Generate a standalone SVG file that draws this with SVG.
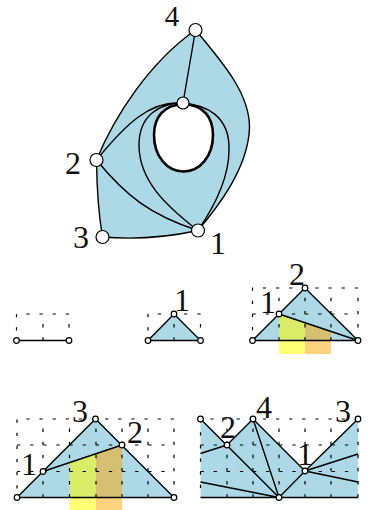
<svg xmlns="http://www.w3.org/2000/svg" width="369" height="510" viewBox="0 0 369 510">
<style>
.f{fill:#add8e6;stroke:none}
.e{fill:none;stroke:#000;stroke-width:1.4}
.d{fill:none;stroke:#000;stroke-width:1.2;stroke-dasharray:3.3 9.825}
.n{fill:#fff;stroke:#000;stroke-width:1.2}
.y{fill:#ffff00;fill-opacity:.55;stroke:none}
.o{fill:#ffa500;fill-opacity:.5;stroke:none}
text{font-family:"Liberation Serif",serif;font-size:32px;fill:#111;text-anchor:middle}
text.s{font-size:29px}
</style>
<g id="panel-top-fill">
<path class="f" d="M195.500 30C150 62 115 115 96.500 160Q97 205 102.500 237Q150 241 198 230.500C215 210 248 170 249.500 128C250 95 225 65 195.500 30Z"/>
<path d="M183.500 104.500C204 104.500 213 118 213 135C213 156 200 171.500 183.500 171.500C167 171.500 154 156 154 135C154 118 163 104.500 183.500 104.500Z" fill="#fff" stroke="#000" stroke-width="2.6"/>
</g>
<g id="grids">
<path class="d" d="M69 314H16.500V340.500M43 340.500V314M69 340.500V314"/>
<path class="f" d="M148 340.500L174 314L200.500 340.500Z"/>
<path class="d" d="M200.500 314H148V340.500M174 340.500V314M200.500 340.500V314"/>
<path class="f" d="M252.500 340.500L305 288L358 340.500Z"/>
<path class="y" d="M279 314L305 322.700V354H279Z"/><path class="o" d="M305 322.700L331 331.400V354H305Z"/>
<path class="d" d="M358 288H252.500V340.500M252.500 314H358M279 340.500V288M305 340.500V288M331 340.500V288M358 340.500V288"/>
<path class="f" d="M17 497.500L95.500 419L174 497.500Z"/>
<path class="y" d="M69.500 462.700L96 453.900V510H69.500Z"/><path class="o" d="M96 453.900L122 445V510H96Z"/>
<path class="d" d="M174 419H17V497.500M17 445H174M17 471.500H174M43 497.500V419M69.500 497.500V419M96 497.500V419M122 497.500V419M148 497.500V419M174 497.500V419"/>
<path class="f" d="M200.500 419L227 445L253 419L305 471L358 419V497.500H200.500Z"/>
<path class="d" d="M358 419H200.500V497.500M200.500 445H358M200.500 471.500H358M227 497.500V419M253 497.500V419M279 497.500V419M305 497.500V419M331 497.500V419M358 497.500V419"/>
</g>
<g id="connectors">
<path class="e" d="M195.500 30C150 62 115 115 96.500 160Q97 205 102.500 237Q150 241 198 230.500C215 210 248 170 249.500 128C250 95 225 65 195.500 30Z"/>
<path class="e" d="M195.500 30L183 103M183 103C150 100 125 125 96.500 160C125 195 150 215 198 230.500M183 103C160 103 139 115 139 145C139 180 165 205 198 230.500M183 103C205 105 230 115 229 150C229 180 212 210 198 230.500"/>
<path class="e" d="M16.500 340.500H69M148 340.500L174 314L200.500 340.500H148"/>
<path class="e" d="M252.500 340.500L305 288L358 340.500H252.500M279 314L358 340.500"/>
<path class="e" d="M17 497.500L95.500 419L174 497.500H17M43 471.500L122 445"/>
<path class="e" d="M200.500 419L279 497.500M227 445L253 419L305 471L358 419M253 419L279 497.500L305 471M227 445L200.500 453.500M200.500 482L279 497.500M305 471L358 454M305 471L358 482M200.500 497.500H358"/>
</g>
<g id="nodes">
<g id="a4"><circle class="n" cx="195.500" cy="30" r="6.500"/><text class="s" x="172" y="26">4</text></g>
<g id="ac"><circle class="n" cx="183" cy="103" r="6"/></g>
<g id="a2"><circle class="n" cx="96.500" cy="160" r="6.500"/><text x="73" y="174">2</text></g>
<g id="a3"><circle class="n" cx="102.500" cy="237" r="6.500"/><text x="81" y="248">3</text></g>
<g id="a1"><circle class="n" cx="198" cy="230.500" r="6.500"/><text x="218" y="254">1</text></g>
<g id="b"><circle class="n" cx="16.500" cy="340.500" r="2.800"/><circle class="n" cx="69" cy="340.500" r="2.800"/></g>
<g id="c"><circle class="n" cx="148" cy="340.500" r="2.800"/><circle class="n" cx="200.500" cy="340.500" r="2.800"/><circle class="n" cx="174" cy="314" r="2.800"/><text x="182" y="311">1</text></g>
<g id="d"><circle class="n" cx="252.500" cy="340.500" r="2.800"/><circle class="n" cx="358" cy="340.500" r="2.800"/><circle class="n" cx="305" cy="288" r="2.800"/><circle class="n" cx="279" cy="314" r="2.800"/><text x="297" y="285">2</text><text x="268" y="313">1</text></g>
<g id="e"><circle class="n" cx="17" cy="497.500" r="2.800"/><circle class="n" cx="174" cy="497.500" r="2.800"/><circle class="n" cx="95.500" cy="419" r="2.800"/><circle class="n" cx="122" cy="445" r="2.800"/><circle class="n" cx="43" cy="471.500" r="2.800"/><text x="80" y="421.500">3</text><text x="135" y="443">2</text><text x="29" y="475">1</text></g>
<g id="f"><circle class="n" cx="200.500" cy="419" r="2.800"/><circle class="n" cx="358" cy="419" r="2.800"/><circle class="n" cx="253" cy="419" r="2.800"/><circle class="n" cx="227" cy="445" r="2.800"/><circle class="n" cx="305" cy="471" r="2.800"/><circle class="n" cx="279" cy="497.500" r="2.800"/><text x="228" y="438">2</text><text x="264" y="418">4</text><text x="343" y="422">3</text><text x="305" y="465">1</text></g>
</g>
</svg>
